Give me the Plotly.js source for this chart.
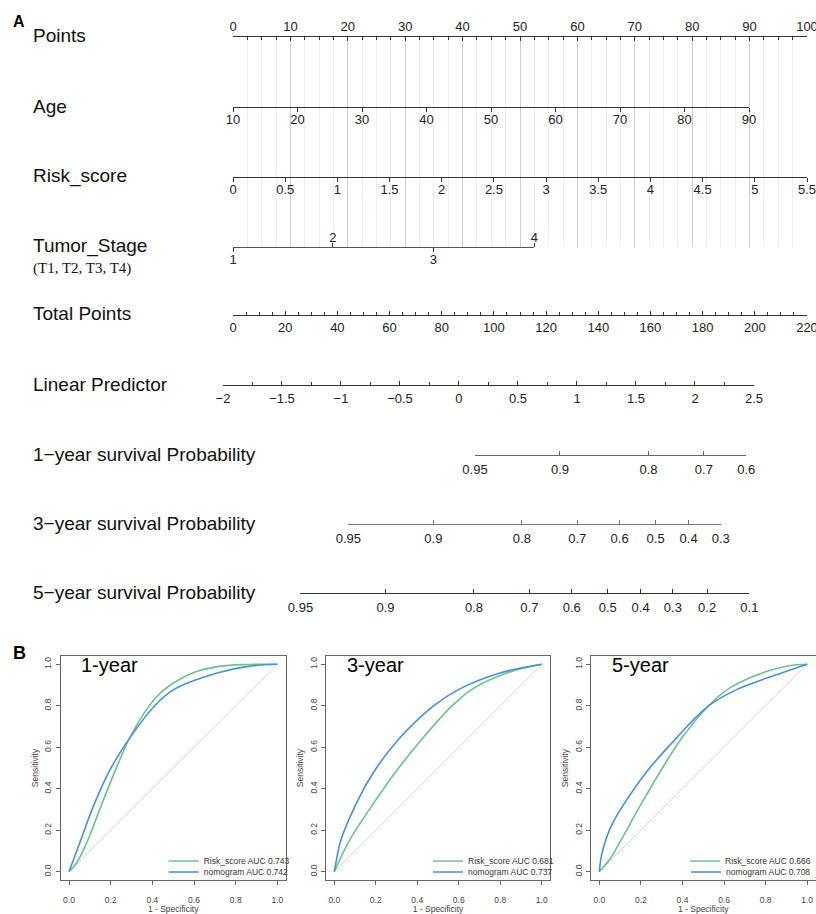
<!DOCTYPE html>
<html><head><meta charset="utf-8">
<script src="https://cdn.plot.ly/plotly-3.0.1.min.js"></script>
<style>html,body{margin:0;padding:0;background:#fff;overflow:hidden;width:816px;height:914px}#chart{display:block;width:816px;height:914px;overflow:hidden}</style>
</head><body><div id="chart"></div>
<script>
// ---------------- data ----------------
const pointsTicks = [0,10,20,30,40,50,60,70,80,90,100];
const ageTicks = [10,20,30,40,50,60,70,80,90];
const ageMaxPoints = 89.9;              // points given to age 90
const riskTicks = [0,0.5,1,1.5,2,2.5,3,3.5,4,4.5,5,5.5];
const riskMaxPoints = 100;              // points given to risk score 5.5
const stageLevels = ['1','2','3','4'];
const stagePoints = [0,17.4,34.9,52.5];
const totalTicks = [0,20,40,60,80,100,120,140,160,180,200,220];
const lpTicks = [-2,-1.5,-1,-0.5,0,0.5,1,1.5,2,2.5];
const lpAtZeroTotal = -1.915;           // linear predictor at 0 total points
const lpPerTotalPoint = 0.02211;        // slope of linear predictor per total point
const surv1Ticks = [0.95,0.9,0.8,0.7,0.6];
const surv3Ticks = [0.95,0.9,0.8,0.7,0.6,0.5,0.4,0.3];
const surv5Ticks = [0.95,0.9,0.8,0.7,0.6,0.5,0.4,0.3,0.2,0.1];
const logBaseCumHaz = [-3.106,-2.033,-1.627];   // 1, 3, 5 year
const rowLabels = ['Points','Age','Risk_score','Tumor_Stage','Total Points','Linear Predictor',
  '1\u2212year survival Probability','3\u2212year survival Probability','5\u2212year survival Probability'];
const stageNote = '(T1, T2, T3, T4)';

const panelTitles = ['1-year','3-year','5-year'];
const aucRisk = [0.743,0.681,0.666];
const aucNomo = [0.742,0.737,0.708];
const refLine = [0,1];
const roc1RiskFpr = [0,0.04,0.093,0.149,0.221,0.286,0.382,0.454,0.59,0.72,0.86,1];
const roc1RiskTpr = [0,0.048,0.159,0.305,0.485,0.635,0.796,0.875,0.957,0.99,0.999,1];
const roc1NomoFpr = [0,0.061,0.117,0.189,0.286,0.409,0.502,0.711,0.86,1];
const roc1NomoTpr = [0,0.165,0.316,0.477,0.637,0.798,0.878,0.958,0.99,1];
const roc3RiskFpr = [0,0.076,0.18,0.293,0.421,0.566,0.662,0.831,1];
const roc3RiskTpr = [0,0.156,0.316,0.477,0.637,0.798,0.878,0.958,1];
const roc3NomoFpr = [0,0.012,0.031,0.1,0.188,0.309,0.477,0.598,0.799,1];
const roc3NomoTpr = [0,0.065,0.15,0.316,0.477,0.637,0.798,0.878,0.958,1];
const roc5RiskFpr = [0,0.05,0.107,0.196,0.3,0.396,0.532,0.628,0.804,0.92,1];
const roc5RiskTpr = [0,0.06,0.157,0.317,0.494,0.643,0.806,0.886,0.965,0.994,1];
const roc5NomoFpr = [0,0.011,0.035,0.067,0.112,0.224,0.364,0.524,0.66,0.877,1];
const roc5NomoTpr = [0,0.08,0.165,0.24,0.316,0.477,0.637,0.798,0.878,0.958,1];

// ---------------- layout geometry ----------------
const W = 816, H = 914;
const fx = px => px / W;
const fy = py => 1 - py / H;
const NL = 233, NR = 807;
const totalMax = totalTicks[totalTicks.length - 1];
const ptsPx = p => NL + (NR - NL) * p / 100;
const totPx = t => NL + (NR - NL) * t / totalMax;
const lpPx = L => totPx((L - lpAtZeroTotal) / lpPerTotalPoint);
const survLp = (s, k) => Math.log(-Math.log(s)) - logBaseCumHaz[k];
const ROWY = [37,107,177,247,315,385,455,524,593];

const SANS = 'Liberation Sans, Arial, sans-serif';
const tickFont = {family: SANS, size: 13, color: '#222'};
const AX = '#333';

function rowAxis(px0, px1, range, rowY, side, extra) {
  return Object.assign({
    anchor: 'free', position: fy(rowY), domain: [fx(px0), fx(px1)], range: range,
    side: side, showline: true, linecolor: AX, linewidth: 1,
    ticks: 'outside', ticklen: 4, tickcolor: AX, tickwidth: 1, ticklabelstandoff: -4,
    ticklabeloverflow: 'allow',
    tickmode: 'array', tickfont: tickFont, showgrid: false, zeroline: false, fixedrange: true
  }, extra || {});
}

const layout = {
  width: W, height: H, margin: {l: 0, r: 0, t: 0, b: 0, pad: 0, autoexpand: false},
  paper_bgcolor: '#fff', plot_bgcolor: 'rgba(0,0,0,0)',
  font: {family: SANS},
  showlegend: true,
  xaxis: {
    domain: [fx(ptsPx(0)), fx(ptsPx(100))], range: [0, 100], anchor: 'y', side: 'top',
    tickmode: 'array', tickvals: pointsTicks, ticks: 'inside', ticklen: 4, tickcolor: AX,
    showline: true, linecolor: AX, linewidth: 1, tickfont: tickFont, ticklabelstandoff: 0,
    ticklabeloverflow: 'allow',
    showgrid: true, gridcolor: '#cdcdcd', gridwidth: 1, zeroline: false, fixedrange: true,
    minor: {tickmode: 'linear', tick0: 0, dtick: 2.5, ticks: 'inside', ticklen: 3, tickcolor: AX,
            showgrid: true, gridcolor: '#ededed', gridwidth: 1}
  },
  yaxis: {domain: [fy(ROWY[3]), fy(ROWY[0])], range: [0, 1], visible: false, fixedrange: true},
  xaxis2: rowAxis(ptsPx(0), ptsPx(ageMaxPoints), [ageTicks[0], ageTicks[ageTicks.length-1]], ROWY[1], 'bottom',
    {tickvals: ageTicks}),
  xaxis3: rowAxis(ptsPx(0), ptsPx(riskMaxPoints), [riskTicks[0], riskTicks[riskTicks.length-1]], ROWY[2], 'bottom',
    {tickvals: riskTicks, ticktext: riskTicks.map(String)}),
  xaxis4: rowAxis(ptsPx(0), ptsPx(stagePoints[3]), [stagePoints[0], stagePoints[3]], ROWY[3], 'top',
    {tickvals: stagePoints.filter((_, i) => i % 2 === 1), ticktext: stageLevels.filter((_, i) => i % 2 === 1), linecolor: '#555'}),
  xaxis5: rowAxis(ptsPx(0), ptsPx(stagePoints[3]), [stagePoints[0], stagePoints[3]], ROWY[3], 'bottom',
    {tickvals: stagePoints.filter((_, i) => i % 2 === 0), ticktext: stageLevels.filter((_, i) => i % 2 === 0), linecolor: '#555'}),
  xaxis6: rowAxis(totPx(0), totPx(totalMax), [0, totalMax], ROWY[4], 'bottom',
    {tickvals: totalTicks, ticks: 'inside', ticklabelstandoff: 0,
     minor: {tickmode: 'linear', tick0: 0, dtick: 5, ticks: 'inside', ticklen: 3, tickcolor: AX}}),
  xaxis7: rowAxis(lpPx(lpTicks[0]), lpPx(lpTicks[lpTicks.length-1]), [lpTicks[0], lpTicks[lpTicks.length-1]], ROWY[5], 'bottom',
    {tickvals: lpTicks, ticks: 'inside', ticklabelstandoff: 1,
     minor: {tickmode: 'linear', tick0: 0, dtick: 0.25, ticks: 'inside', ticklen: 3, tickcolor: AX}}),
  annotations: []
};

const survSets = [surv1Ticks, surv3Ticks, surv5Ticks];
const survColors = ['#666', '#777', '#333'];
survSets.forEach((ticks, k) => {
  const lps = ticks.map(s => survLp(s, k));
  const lo = Math.min(...lps), hi = Math.max(...lps);
  layout['xaxis' + (8 + k)] = rowAxis(lpPx(lo), lpPx(hi), [lo, hi], ROWY[6 + k], 'bottom',
    {tickvals: lps, ticktext: ticks.map(String), ticks: 'inside', ticklabelstandoff: 2, linecolor: survColors[k], linewidth: 1.3, tickcolor: survColors[k]});
});

const data = [];
// register each nomogram scale as a subplot (the scales are drawn by the axes themselves)
for (let i = 1; i <= 10; i++) {
  data.push({type: 'scatter', mode: 'lines', x: [], y: [], xaxis: i === 1 ? 'x' : 'x' + i, yaxis: 'y',
             showlegend: false, hoverinfo: 'skip'});
}

rowLabels.forEach((t, i) => {
  layout.annotations.push({text: t, xref: 'paper', yref: 'paper', x: fx(31), y: fy(ROWY[i] - 1),
    xanchor: 'left', yanchor: 'middle', showarrow: false, font: {family: SANS, size: 19, color: '#111'}});
});
layout.annotations.push({text: stageNote, xref: 'paper', yref: 'paper', x: fx(31), y: fy(268),
  xanchor: 'left', yanchor: 'middle', showarrow: false, font: {family: 'Liberation Serif, serif', size: 15, color: '#111'}});
layout.annotations.push({text: '<b>A</b>', xref: 'paper', yref: 'paper', x: fx(11), y: fy(22),
  xanchor: 'left', yanchor: 'middle', showarrow: false, font: {family: SANS, size: 16, color: '#000'}});
layout.annotations.push({text: '<b>B</b>', xref: 'paper', yref: 'paper', x: fx(11), y: fy(653),
  xanchor: 'left', yanchor: 'middle', showarrow: false, font: {family: SANS, size: 18, color: '#000'}});

// ---------------- ROC panels ----------------
const panelL = [60.7, 326, 591], panelR = [285.7, 550, 815.5];
const PT = 656, PB = 880;
const rocRisk = [[roc1RiskFpr, roc1RiskTpr], [roc3RiskFpr, roc3RiskTpr], [roc5RiskFpr, roc5RiskTpr]];
const rocNomo = [[roc1NomoFpr, roc1NomoTpr], [roc3NomoFpr, roc3NomoTpr], [roc5NomoFpr, roc5NomoTpr]];
const GREEN = '#6cc08b', BLUE = '#4a8fd4';
const rocTicks = [0, 0.2, 0.4, 0.6, 0.8, 1];
const smallFont = {family: SANS, size: 8.5, color: '#444'};
const legFont = {family: SANS, size: 8.5, color: '#333'};

for (let k = 0; k < 3; k++) {
  const n = 11 + k, xa = 'x' + n, ya = 'y' + n;
  const lgA = k === 0 ? 'legend' : 'legend' + (k + 1);
  const lgB = 'legend' + (k + 4);
  const common = {range: [-0.04, 1.04], tickmode: 'array', tickvals: rocTicks, ticktext: rocTicks.map(v => v.toFixed(1)),
    showline: true, mirror: true, linecolor: '#666', linewidth: 1, ticks: 'outside', ticklen: 4, tickcolor: '#666',
    tickfont: smallFont, showgrid: false, zeroline: false, fixedrange: true, ticklabeloverflow: 'allow'};
  layout['xaxis' + n] = Object.assign({}, common, {domain: [fx(panelL[k]), fx(panelR[k])], anchor: ya,
    ticklabelstandoff: 8, title: {text: '1 - Specificity', font: smallFont, standoff: 4}});
  layout['yaxis' + n] = Object.assign({}, common, {domain: [fy(PB), fy(PT)], anchor: xa, tickangle: -90,
    ticklabelstandoff: 1, title: {text: 'Sensitivity', font: smallFont, standoff: 3}});
  data.push({type: 'scatter', mode: 'lines', x: refLine, y: refLine, xaxis: xa, yaxis: ya,
    line: {color: '#d3d3d3', width: 1}, showlegend: false, hoverinfo: 'skip'});
  data.push({type: 'scatter', mode: 'lines', x: rocRisk[k][0], y: rocRisk[k][1], xaxis: xa, yaxis: ya,
    line: {color: GREEN, width: 1.6, shape: 'spline', smoothing: 1},
    name: 'Risk_score AUC ' + aucRisk[k].toFixed(3), legend: lgA});
  data.push({type: 'scatter', mode: 'lines', x: rocNomo[k][0], y: rocNomo[k][1], xaxis: xa, yaxis: ya,
    line: {color: BLUE, width: 1.6, shape: 'spline', smoothing: 1},
    name: 'nomogram AUC ' + aucNomo[k].toFixed(3), legend: lgB});
  const legBase = k < 2
    ? {x: fx(panelR[k] - 122), xanchor: 'left'}
    : {x: 1, xanchor: 'right'};
  Object.assign(legBase, {yanchor: 'top', bgcolor: 'rgba(0,0,0,0)', borderwidth: 0, font: legFont, itemwidth: 30});
  layout[lgA] = Object.assign({}, legBase, {y: fy(846.5)});
  layout[lgB] = Object.assign({}, legBase, {y: fy(857.5)});
  layout.annotations.push({text: panelTitles[k], xref: 'paper', yref: 'paper', x: fx(panelL[k] + 18.5), y: fy(665),
    xanchor: 'left', yanchor: 'middle', showarrow: false, font: {family: SANS, size: 20, color: '#000'}});
}

Plotly.newPlot('chart', data, layout, {staticPlot: true, displayModeBar: false});
</script>
</body></html>
